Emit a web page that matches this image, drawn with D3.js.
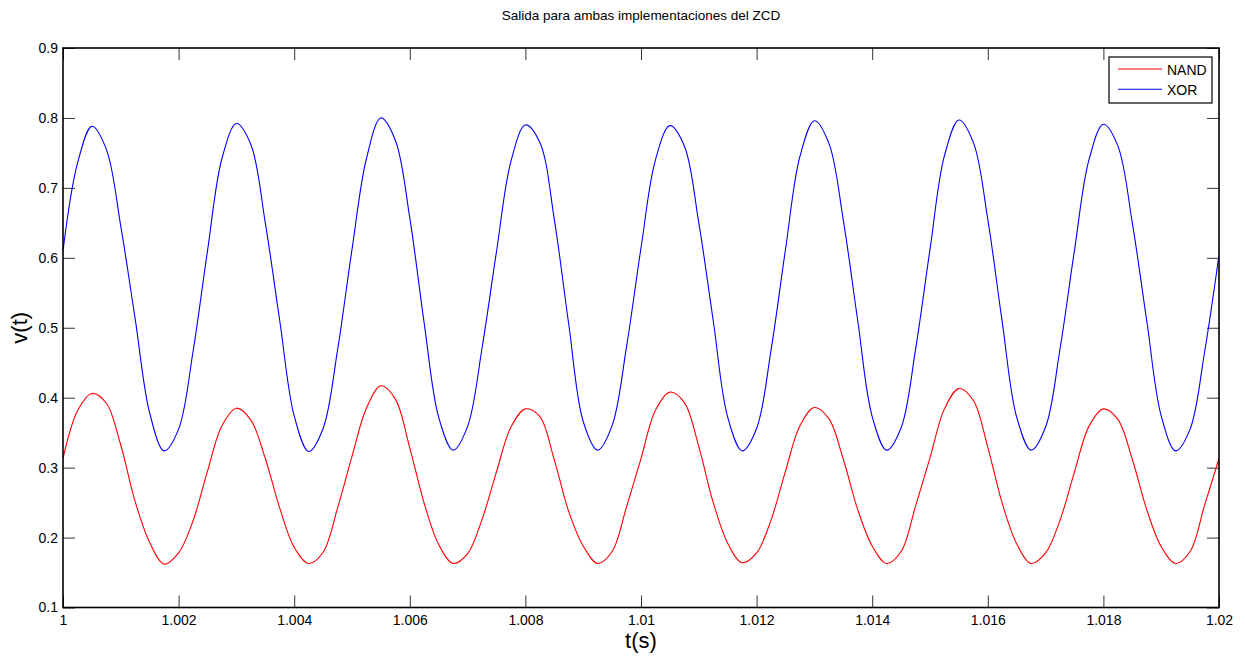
<!DOCTYPE html>
<html>
<head>
<meta charset="utf-8">
<script src="https://cdn.jsdelivr.net/npm/d3@7"></script>
<style>
  body { margin: 0; background: #fff; }
  svg { font-family: "Liberation Sans", Arial, sans-serif; }
  .tick text { font-size: 14px; fill: #000; }
</style>
</head>
<body>
<div id="chart"></div>
<script>
// time samples (s)
const timeValues = [
  1.00000, 1.00025, 1.00050, 1.00075, 1.00100, 1.00125, 1.00150, 1.00175, 1.00200, 1.00225,
  1.00250, 1.00275, 1.00300, 1.00325, 1.00350, 1.00375, 1.00400, 1.00425, 1.00450, 1.00475,
  1.00500, 1.00525, 1.00550, 1.00575, 1.00600, 1.00625, 1.00650, 1.00675, 1.00700, 1.00725,
  1.00750, 1.00775, 1.00800, 1.00825, 1.00850, 1.00875, 1.00900, 1.00925, 1.00950, 1.00975,
  1.01000, 1.01025, 1.01050, 1.01075, 1.01100, 1.01125, 1.01150, 1.01175, 1.01200, 1.01225,
  1.01250, 1.01275, 1.01300, 1.01325, 1.01350, 1.01375, 1.01400, 1.01425, 1.01450, 1.01475,
  1.01500, 1.01525, 1.01550, 1.01575, 1.01600, 1.01625, 1.01650, 1.01675, 1.01700, 1.01725,
  1.01750, 1.01775, 1.01800, 1.01825, 1.01850, 1.01875, 1.01900, 1.01925, 1.01950, 1.01975,
  1.02000
];

// NAND output
const nandValues = [
  0.313, 0.381, 0.406, 0.392, 0.332, 0.251, 0.193, 0.162, 0.178, 0.224,
  0.295, 0.360, 0.385, 0.368, 0.313, 0.242, 0.186, 0.163, 0.179, 0.242,
  0.316, 0.385, 0.417, 0.398, 0.328, 0.249, 0.190, 0.163, 0.177, 0.226,
  0.294, 0.358, 0.384, 0.373, 0.311, 0.237, 0.188, 0.163, 0.180, 0.244,
  0.313, 0.382, 0.408, 0.393, 0.330, 0.250, 0.192, 0.164, 0.178, 0.225,
  0.295, 0.360, 0.386, 0.370, 0.312, 0.240, 0.188, 0.163, 0.180, 0.245,
  0.314, 0.384, 0.413, 0.396, 0.329, 0.249, 0.191, 0.163, 0.178, 0.225,
  0.294, 0.359, 0.384, 0.369, 0.312, 0.240, 0.187, 0.163, 0.180, 0.246,
  0.313
];

// XOR output
const xorValues = [
  0.610, 0.735, 0.788, 0.755, 0.645, 0.512, 0.378, 0.324, 0.355, 0.466,
  0.610, 0.742, 0.792, 0.762, 0.650, 0.510, 0.374, 0.323, 0.356, 0.468,
  0.612, 0.742, 0.800, 0.768, 0.657, 0.506, 0.372, 0.325, 0.359, 0.471,
  0.609, 0.738, 0.790, 0.765, 0.655, 0.505, 0.366, 0.325, 0.360, 0.473,
  0.614, 0.740, 0.789, 0.760, 0.650, 0.510, 0.372, 0.324, 0.356, 0.468,
  0.612, 0.745, 0.796, 0.764, 0.654, 0.510, 0.373, 0.325, 0.357, 0.469,
  0.612, 0.746, 0.797, 0.765, 0.655, 0.508, 0.372, 0.325, 0.358, 0.470,
  0.611, 0.740, 0.791, 0.760, 0.650, 0.510, 0.374, 0.324, 0.355, 0.465,
  0.604
];

const xTicks = [1, 1.002, 1.004, 1.006, 1.008, 1.01, 1.012, 1.014, 1.016, 1.018, 1.02];
const xTickLabels = ['1', '1.002', '1.004', '1.006', '1.008', '1.01', '1.012', '1.014', '1.016', '1.018', '1.02'];
const yTicks = [0.1, 0.2, 0.3, 0.4, 0.5, 0.6, 0.7, 0.8, 0.9];
const yTickLabels = ['0.1', '0.2', '0.3', '0.4', '0.5', '0.6', '0.7', '0.8', '0.9'];
const seriesNames = ['NAND', 'XOR'];
const seriesColors = ['#ff0000', '#0000ff'];

const W = 1246, H = 657;
const margin = {top: 48, right: 27, bottom: 49.5, left: 63};
const width = W - margin.left - margin.right;
const height = H - margin.top - margin.bottom;

const svg = d3.select('#chart').append('svg')
    .attr('width', W)
    .attr('height', H);

const x = d3.scaleLinear().domain([1, 1.02]).range([0, width]);
const y = d3.scaleLinear().domain([0.1, 0.9]).range([height, 0]);

const g = svg.append('g')
    .attr('transform', `translate(${margin.left},${margin.top})`);

// axes: ticks point inward, like matlab
const tickLen = 12;
const xAxisBottom = d3.axisBottom(x)
    .tickValues(xTicks)
    .tickFormat((d, i) => xTickLabels[i])
    .tickSizeInner(-tickLen).tickSizeOuter(0).tickPadding(7.5);
const xAxisTop = d3.axisTop(x)
    .tickValues(xTicks).tickFormat('')
    .tickSizeInner(-tickLen).tickSizeOuter(0);
const yAxisLeft = d3.axisLeft(y)
    .tickValues(yTicks)
    .tickFormat((d, i) => yTickLabels[i])
    .tickSizeInner(-tickLen).tickSizeOuter(0).tickPadding(5);
const yAxisRight = d3.axisRight(y)
    .tickValues(yTicks).tickFormat('')
    .tickSizeInner(-tickLen).tickSizeOuter(0);

g.append('g').attr('transform', `translate(0,${height})`).call(xAxisBottom);
g.append('g').call(xAxisTop);
g.append('g').call(yAxisLeft);
g.append('g').attr('transform', `translate(${width},0)`).call(yAxisRight);

g.selectAll('.domain').remove();
g.selectAll('.tick line').attr('stroke', '#333').attr('stroke-width', 1);
g.selectAll('.tick text').attr('font-family', '"Liberation Sans", Arial, sans-serif');

// lines
svg.append('defs').append('clipPath').attr('id', 'plot-clip')
  .append('rect').attr('width', width).attr('height', height);

const line = d3.line()
    .x(d => x(d[0]))
    .y(d => y(d[1]))
    .curve(d3.curveCatmullRom.alpha(0.5));

const series = [nandValues, xorValues];
series.forEach((vals, si) => {
    g.append('path')
        .datum(timeValues.map((t, i) => [t, vals[i]]))
        .attr('clip-path', 'url(#plot-clip)')
        .attr('fill', 'none')
        .attr('stroke', seriesColors[si])
        .attr('stroke-width', 1.1)
        .attr('d', line);
});

// frame
g.append('rect')
    .attr('width', width).attr('height', height)
    .attr('fill', 'none')
    .attr('stroke', '#000')
    .attr('stroke-width', 1.6);

// title and labels
svg.append('text')
    .attr('x', margin.left + width / 2)
    .attr('y', 20)
    .attr('text-anchor', 'middle')
    .attr('font-size', 13.5)
    .text('Salida para ambas implementaciones del ZCD');

svg.append('text')
    .attr('x', margin.left + width / 2)
    .attr('y', 648)
    .attr('text-anchor', 'middle')
    .attr('font-size', 22)
    .text('t(s)');

svg.append('text')
    .attr('transform', `translate(27,${margin.top + height / 2}) rotate(-90)`)
    .attr('text-anchor', 'middle')
    .attr('font-size', 22)
    .text('v(t)');

// legend
const legend = svg.append('g').attr('transform', 'translate(1109,57)');
legend.append('rect')
    .attr('width', 103).attr('height', 46)
    .attr('fill', '#fff')
    .attr('stroke', '#000')
    .attr('stroke-width', 1.2);
seriesNames.forEach((name, i) => {
    const ly = 12 + i * 20.3;
    legend.append('line')
        .attr('x1', 9).attr('x2', 53)
        .attr('y1', ly).attr('y2', ly)
        .attr('stroke', seriesColors[i])
        .attr('stroke-width', 1.1);
    legend.append('text')
        .attr('x', 58).attr('y', ly + 5.5)
        .attr('font-size', 14)
        .text(name);
});
</script>
</body>
</html>
